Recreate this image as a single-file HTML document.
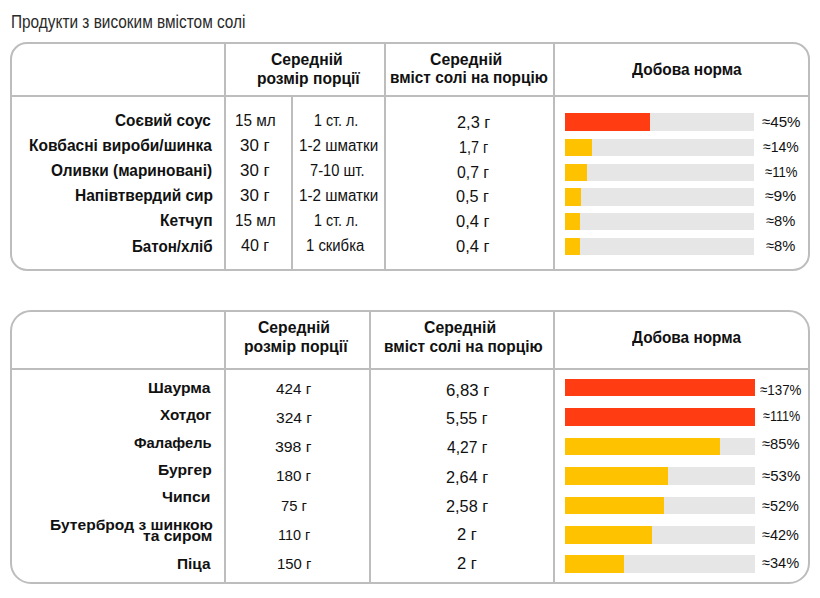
<!DOCTYPE html>
<html><head><meta charset="utf-8"><style>
html,body{margin:0;padding:0;background:#fff;}
body{width:820px;height:598px;position:relative;overflow:hidden;font-family:"Liberation Sans",sans-serif;color:#111;}
.b{position:absolute;box-sizing:content-box;}
.t{position:absolute;white-space:nowrap;line-height:30px;transform-origin:0 0;}
</style></head><body>
<div class="b" style="left:10px;top:42px;width:796px;height:225px;border:2px solid #bdbdbd;border-radius:17px;"></div>
<div class="b" style="left:12px;top:95px;width:796px;height:2px;background:#bdbdbd;"></div>
<div class="b" style="left:224px;top:44px;width:2px;height:225px;background:#bdbdbd;"></div>
<div class="b" style="left:384px;top:44px;width:2px;height:225px;background:#bdbdbd;"></div>
<div class="b" style="left:553px;top:44px;width:2px;height:225px;background:#bdbdbd;"></div>
<div class="b" style="left:291px;top:97px;width:2px;height:172px;background:#bdbdbd;"></div>
<div class="b" style="left:10px;top:310px;width:796px;height:270px;border:2px solid #bdbdbd;border-radius:21px;"></div>
<div class="b" style="left:12px;top:368px;width:796px;height:2px;background:#bdbdbd;"></div>
<div class="b" style="left:224px;top:312px;width:2px;height:270px;background:#bdbdbd;"></div>
<div class="b" style="left:369px;top:312px;width:2px;height:270px;background:#bdbdbd;"></div>
<div class="b" style="left:553px;top:312px;width:2px;height:270px;background:#bdbdbd;"></div>
<div class="b" style="left:565.30px;top:113.30px;width:189.10px;height:17.8px;background:#e6e6e6;"></div>
<div class="b" style="left:565.30px;top:113.30px;width:84.70px;height:17.8px;background:#ff3c12;"></div>
<div class="b" style="left:565.30px;top:138.50px;width:189.10px;height:17.8px;background:#e6e6e6;"></div>
<div class="b" style="left:565.30px;top:138.50px;width:26.40px;height:17.8px;background:#ffc200;"></div>
<div class="b" style="left:565.30px;top:163.50px;width:189.10px;height:17.8px;background:#e6e6e6;"></div>
<div class="b" style="left:565.30px;top:163.50px;width:21.80px;height:17.8px;background:#ffc200;"></div>
<div class="b" style="left:565.30px;top:188.10px;width:189.10px;height:17.8px;background:#e6e6e6;"></div>
<div class="b" style="left:565.30px;top:188.10px;width:15.70px;height:17.8px;background:#ffc200;"></div>
<div class="b" style="left:565.30px;top:212.50px;width:189.10px;height:17.8px;background:#e6e6e6;"></div>
<div class="b" style="left:565.30px;top:212.50px;width:14.90px;height:17.8px;background:#ffc200;"></div>
<div class="b" style="left:565.30px;top:237.50px;width:189.10px;height:17.8px;background:#e6e6e6;"></div>
<div class="b" style="left:565.30px;top:237.50px;width:14.90px;height:17.8px;background:#ffc200;"></div>
<div class="b" style="left:565.30px;top:378.50px;width:189.30px;height:17.8px;background:#e6e6e6;"></div>
<div class="b" style="left:565.30px;top:378.50px;width:189.30px;height:17.8px;background:#ff3c12;"></div>
<div class="b" style="left:565.30px;top:407.90px;width:189.30px;height:17.8px;background:#e6e6e6;"></div>
<div class="b" style="left:565.30px;top:407.90px;width:189.30px;height:17.8px;background:#ff3c12;"></div>
<div class="b" style="left:565.30px;top:437.50px;width:189.30px;height:17.8px;background:#e6e6e6;"></div>
<div class="b" style="left:565.30px;top:437.50px;width:154.60px;height:17.8px;background:#ffc200;"></div>
<div class="b" style="left:565.30px;top:467.10px;width:189.30px;height:17.8px;background:#e6e6e6;"></div>
<div class="b" style="left:565.30px;top:467.10px;width:102.70px;height:17.8px;background:#ffc200;"></div>
<div class="b" style="left:565.30px;top:496.50px;width:189.30px;height:17.8px;background:#e6e6e6;"></div>
<div class="b" style="left:565.30px;top:496.50px;width:99.20px;height:17.8px;background:#ffc200;"></div>
<div class="b" style="left:565.30px;top:525.80px;width:189.30px;height:17.8px;background:#e6e6e6;"></div>
<div class="b" style="left:565.30px;top:525.80px;width:86.60px;height:17.8px;background:#ffc200;"></div>
<div class="b" style="left:565.30px;top:554.90px;width:189.30px;height:17.8px;background:#e6e6e6;"></div>
<div class="b" style="left:565.30px;top:554.90px;width:58.50px;height:17.8px;background:#ffc200;"></div>
<div class="t" style="left:10.68px;top:7px;font-size:19px;transform:scaleX(0.8098);color:#2a2a2a;">Продукти з високим вмістом солі</div>
<div class="t" style="left:270.99px;top:45px;font-size:16px;transform:scaleX(0.9795);font-weight:bold;">Середній</div>
<div class="t" style="left:257.35px;top:64px;font-size:16px;transform:scaleX(0.9750);font-weight:bold;">розмір порції</div>
<div class="t" style="left:429.99px;top:45px;font-size:16px;transform:scaleX(0.9865);font-weight:bold;">Середній</div>
<div class="t" style="left:389.83px;top:63px;font-size:16px;transform:scaleX(0.9587);font-weight:bold;">вміст солі на порцію</div>
<div class="t" style="left:631.79px;top:55px;font-size:16px;transform:scaleX(0.9660);font-weight:bold;">Добова норма</div>
<div class="t" style="left:115.42px;top:106px;font-size:16px;transform:scaleX(0.9585);font-weight:bold;">Соєвий соус</div>
<div class="t" style="left:234.97px;top:106px;font-size:16px;transform:scaleX(0.9580);">15 мл</div>
<div class="t" style="left:313.55px;top:106px;font-size:16px;transform:scaleX(0.8938);">1 ст. л.</div>
<div class="t" style="left:456.93px;top:108px;font-size:16px;transform:scaleX(1.0222);">2,3 г</div>
<div class="t" style="left:761.59px;top:107px;font-size:15.5px;transform:scaleX(0.9749);">≈45%</div>
<div class="t" style="left:29.25px;top:131px;font-size:16px;transform:scaleX(0.9701);font-weight:bold;">Ковбасні вироби/шинка</div>
<div class="t" style="left:240.07px;top:131px;font-size:16px;transform:scaleX(1.0553);">30 г</div>
<div class="t" style="left:299.38px;top:131px;font-size:16px;transform:scaleX(0.9508);">1-2 шматки</div>
<div class="t" style="left:458.85px;top:133px;font-size:16px;transform:scaleX(0.8965);">1,7 г</div>
<div class="t" style="left:762.99px;top:132px;font-size:15.5px;transform:scaleX(0.9026);">≈14%</div>
<div class="t" style="left:51.41px;top:156px;font-size:16px;transform:scaleX(0.9633);font-weight:bold;">Оливки (мариновані)</div>
<div class="t" style="left:240.07px;top:156px;font-size:16px;transform:scaleX(1.0553);">30 г</div>
<div class="t" style="left:309.53px;top:156px;font-size:16px;transform:scaleX(0.9185);">7-10 шт.</div>
<div class="t" style="left:456.93px;top:158px;font-size:16px;transform:scaleX(0.9877);">0,7 г</div>
<div class="t" style="left:764.87px;top:157px;font-size:15.5px;transform:scaleX(0.8464);">≈11%</div>
<div class="t" style="left:74.55px;top:181px;font-size:16px;transform:scaleX(0.9675);font-weight:bold;">Напівтвердий сир</div>
<div class="t" style="left:240.07px;top:181px;font-size:16px;transform:scaleX(1.0553);">30 г</div>
<div class="t" style="left:299.38px;top:181px;font-size:16px;transform:scaleX(0.9508);">1-2 шматки</div>
<div class="t" style="left:456.20px;top:182px;font-size:16px;transform:scaleX(1.0137);">0,5 г</div>
<div class="t" style="left:765.44px;top:181px;font-size:15.5px;transform:scaleX(1.0079);">≈9%</div>
<div class="t" style="left:160.15px;top:206px;font-size:16px;transform:scaleX(0.9701);font-weight:bold;">Кетчуп</div>
<div class="t" style="left:234.97px;top:206px;font-size:16px;transform:scaleX(0.9580);">15 мл</div>
<div class="t" style="left:313.55px;top:206px;font-size:16px;transform:scaleX(0.8938);">1 ст. л.</div>
<div class="t" style="left:455.99px;top:207px;font-size:16px;transform:scaleX(1.0298);">0,4 г</div>
<div class="t" style="left:766.22px;top:206px;font-size:15.5px;transform:scaleX(0.9494);">≈8%</div>
<div class="t" style="left:132.18px;top:232px;font-size:16px;transform:scaleX(0.9450);font-weight:bold;">Батон/хліб</div>
<div class="t" style="left:241.48px;top:231px;font-size:16px;transform:scaleX(1.0045);">40 г</div>
<div class="t" style="left:306.41px;top:231px;font-size:16px;transform:scaleX(0.9286);">1 скибка</div>
<div class="t" style="left:455.99px;top:232px;font-size:16px;transform:scaleX(1.0298);">0,4 г</div>
<div class="t" style="left:766.22px;top:231px;font-size:15.5px;transform:scaleX(0.9494);">≈8%</div>
<div class="t" style="left:258.09px;top:313px;font-size:16px;transform:scaleX(0.9823);font-weight:bold;">Середній</div>
<div class="t" style="left:244.34px;top:332px;font-size:16px;transform:scaleX(0.9826);font-weight:bold;">розмір порції</div>
<div class="t" style="left:424.29px;top:313px;font-size:16px;transform:scaleX(0.9851);font-weight:bold;">Середній</div>
<div class="t" style="left:383.52px;top:332px;font-size:16px;transform:scaleX(0.9637);font-weight:bold;">вміст солі на порцію</div>
<div class="t" style="left:631.99px;top:323px;font-size:16px;transform:scaleX(0.9598);font-weight:bold;">Добова норма</div>
<div class="t" style="left:148.03px;top:373px;font-size:15.5px;transform:scaleX(1.0119);font-weight:bold;">Шаурма</div>
<div class="t" style="left:159.59px;top:400px;font-size:15.5px;transform:scaleX(0.9822);font-weight:bold;">Хотдог</div>
<div class="t" style="left:134.04px;top:428px;font-size:15.5px;transform:scaleX(0.9506);font-weight:bold;">Фалафель</div>
<div class="t" style="left:158.03px;top:455px;font-size:15.5px;transform:scaleX(1.0086);font-weight:bold;">Бургер</div>
<div class="t" style="left:161.93px;top:482px;font-size:15.5px;transform:scaleX(1.0097);font-weight:bold;">Чипси</div>
<div class="t" style="left:49.94px;top:510px;font-size:15.5px;transform:scaleX(1.0060);font-weight:bold;">Бутерброд з шинкою</div>
<div class="t" style="left:143.12px;top:521px;font-size:15.5px;transform:scaleX(1.0076);font-weight:bold;">та сиром</div>
<div class="t" style="left:176.75px;top:549px;font-size:15.5px;transform:scaleX(0.9915);font-weight:bold;">Піца</div>
<div class="t" style="left:276.40px;top:374px;font-size:15.5px;transform:scaleX(0.9822);">424 г</div>
<div class="t" style="left:275.63px;top:403px;font-size:15.5px;transform:scaleX(1.0037);">324 г</div>
<div class="t" style="left:275.11px;top:432px;font-size:15.5px;transform:scaleX(1.0212);">398 г</div>
<div class="t" style="left:275.96px;top:461px;font-size:15.5px;transform:scaleX(0.9805);">180 г</div>
<div class="t" style="left:281.00px;top:491px;font-size:15.5px;transform:scaleX(0.9571);">75 г</div>
<div class="t" style="left:277.82px;top:520px;font-size:15.5px;transform:scaleX(0.9322);">110 г</div>
<div class="t" style="left:276.58px;top:549px;font-size:15.5px;transform:scaleX(0.9601);">150 г</div>
<div class="t" style="left:445.69px;top:376px;font-size:16px;transform:scaleX(1.0476);">6,83 г</div>
<div class="t" style="left:446.27px;top:404px;font-size:16px;transform:scaleX(1.0042);">5,55 г</div>
<div class="t" style="left:446.99px;top:433px;font-size:16px;transform:scaleX(0.9767);">4,27 г</div>
<div class="t" style="left:445.83px;top:463px;font-size:16px;transform:scaleX(1.0198);">2,64 г</div>
<div class="t" style="left:445.93px;top:492px;font-size:16px;transform:scaleX(1.0173);">2,58 г</div>
<div class="t" style="left:456.71px;top:520px;font-size:16px;transform:scaleX(1.0370);">2 г</div>
<div class="t" style="left:456.71px;top:549px;font-size:16px;transform:scaleX(1.0370);">2 г</div>
<div class="t" style="left:760.15px;top:375px;font-size:15.5px;transform:scaleX(0.8617);">≈137%</div>
<div class="t" style="left:762.52px;top:401px;font-size:15.5px;transform:scaleX(0.8126);">≈111%</div>
<div class="t" style="left:761.92px;top:429px;font-size:15.5px;transform:scaleX(0.9535);">≈85%</div>
<div class="t" style="left:761.60px;top:461px;font-size:15.5px;transform:scaleX(0.9669);">≈53%</div>
<div class="t" style="left:762.15px;top:491px;font-size:15.5px;transform:scaleX(0.9320);">≈52%</div>
<div class="t" style="left:762.15px;top:520px;font-size:15.5px;transform:scaleX(0.9320);">≈42%</div>
<div class="t" style="left:761.84px;top:548px;font-size:15.5px;transform:scaleX(0.9401);">≈34%</div>
</body></html>
